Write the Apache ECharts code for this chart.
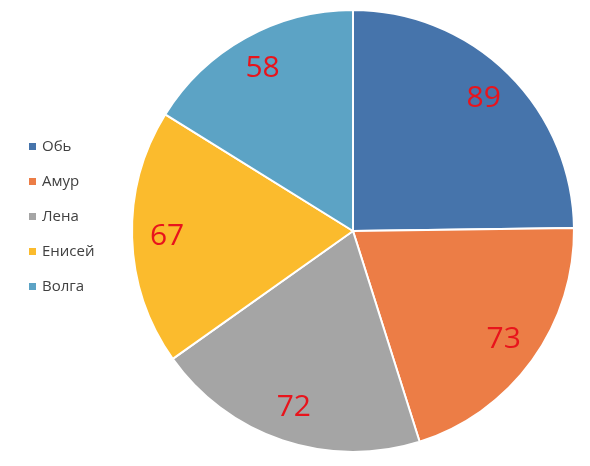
<!DOCTYPE html><html><head><meta charset="utf-8"><script src="https://cdn.jsdelivr.net/npm/echarts@6/dist/echarts.min.js"></script></head><body style="margin:0;background:#fff"><div id="c" style="width:590px;height:466px"></div><script>
const categories=['Обь','Амур','Лена','Енисей','Волга'];
const values=[89,73,72,67,58];
const colors=['#4674AB','#EC7D46','#A5A5A5','#FBBB2D','#5CA3C5'];
const data=categories.map((n,i)=>({name:n,value:values[i],itemStyle:{color:colors[i]}}));
const chart=echarts.init(document.getElementById('c'));
chart.setOption({animation:false,
legend:{orient:'vertical',left:22,top:134,itemWidth:9,itemHeight:9,itemGap:20,icon:'rect',textStyle:{fontSize:15,color:'#404040',fontFamily:'Open Sans'},data:categories},
series:[{type:'pie',center:[353,231],radius:[0,221],startAngle:90,clockwise:true,data:data,label:{show:false},itemStyle:{borderColor:'#fff',borderWidth:2},silent:true},
{type:'pie',center:[353,231],radius:[145,221],startAngle:90,clockwise:true,data:data.map(d=>({name:d.name,value:d.value,itemStyle:{color:'transparent'}})),label:{show:true,position:'inside',formatter:'{c}',fontSize:30,color:'#E8141C',fontFamily:'Open Sans'},labelLine:{show:false},silent:true,legendHoverLink:false}]
});
</script></body></html>
